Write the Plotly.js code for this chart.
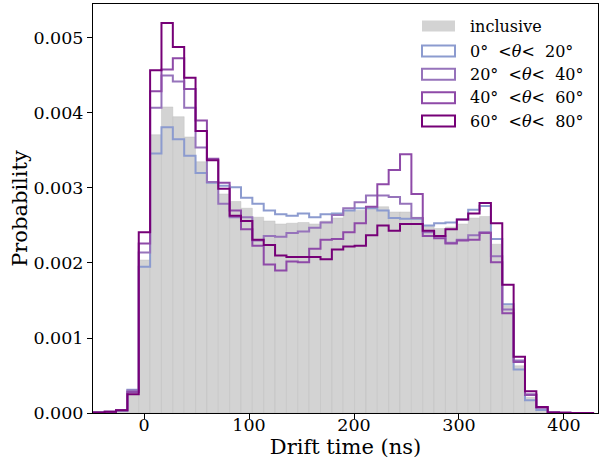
<!DOCTYPE html>
<html>
<head>
<meta charset="utf-8">
<script src="https://cdn.plot.ly/plotly-3.0.1.min.js"></script>
<style>html,body{margin:0;padding:0;background:#fff;}#chart{width:599px;height:459px;}</style>
</head>
<body>
<div id="chart"></div>
<script>
// ---- data (probability per bin, in units of 1e-3) ----
const binStart = -48.3;      // left edge of first bin (ns)
const binWidth = 10.82;      // bin width (ns)
const inclusive = [0.005,0.012,0.03,0.29,2.04,3.71,4.08,3.95,3.68,3.35,3.06,2.92,2.82,2.73,2.61,2.56,2.52,2.53,2.54,2.52,2.56,2.60,2.70,2.70,2.75,2.75,2.68,2.68,2.61,2.50,2.46,2.48,2.52,2.60,2.62,2.25,1.43,0.63,0.21,0.05,0.006,0.002,0.001,0.001];
const theta0_20 = [0.005,0.012,0.03,0.31,1.95,3.46,3.81,3.65,3.43,3.20,3.07,3.03,3.01,2.87,2.79,2.70,2.65,2.63,2.66,2.61,2.65,2.66,2.70,2.73,2.73,2.70,2.60,2.59,2.59,2.50,2.53,2.54,2.58,2.71,2.76,2.32,1.45,0.58,0.17,0.04,0.005,0.001,0.001,0.0];
const theta20_40 = [0.005,0.015,0.035,0.30,2.14,4.07,4.50,4.42,4.07,3.54,3.08,2.79,2.61,2.61,2.30,2.36,2.35,2.40,2.42,2.47,2.54,2.64,2.73,2.81,2.90,2.90,2.88,2.79,2.60,2.41,2.36,2.27,2.31,2.37,2.41,2.09,1.38,0.70,0.25,0.08,0.006,0.002,0.001,0.0];
const theta40_60 = [0.005,0.015,0.035,0.28,2.26,4.29,4.58,4.73,4.32,3.90,3.39,3.07,2.70,2.45,2.23,1.98,1.90,2.02,2.01,2.19,2.31,2.32,2.41,2.53,2.75,3.05,3.24,3.45,2.92,2.36,2.33,2.26,2.30,2.31,2.40,2.01,1.33,0.68,0.24,0.07,0.006,0.002,0.001,0.0];
const theta60_80 = [0.005,0.015,0.035,0.25,2.41,4.57,5.20,4.88,4.47,3.76,3.37,2.99,2.63,2.56,2.31,2.24,2.10,2.08,2.08,2.08,2.05,2.18,2.22,2.23,2.37,2.50,2.43,2.52,2.52,2.43,2.36,2.45,2.58,2.66,2.80,2.53,1.71,0.75,0.29,0.08,0.008,0.002,0.001,0.001];
const seriesNames = ["0°\u00a0\u00a0<<i>θ</i><\u00a0\u00a020°","20°\u00a0\u00a0<<i>θ</i><\u00a0\u00a040°","40°\u00a0\u00a0<<i>θ</i><\u00a0\u00a060°","60°\u00a0\u00a0<<i>θ</i><\u00a0\u00a080°"];
const inclusiveName = "inclusive";
const xTicks = [0,100,200,300,400];
const yTicks = [0,0.001,0.002,0.003,0.004,0.005];

// ---- styles ----
const colors = ["#8c9bcf","#9673bb","#8e4aa8","#760077"];
const FONT = "DejaVu Serif, serif";
const W = 599, H = 459, L = 93, R = 1, T = 4, B = 46;

const toProb = a => a.map(v => v/1000);
const n = inclusive.length;
const edges = Array.from({length: n+1}, (_, i) => binStart + i*binWidth);
const centers = edges.slice(0, n).map(e => e + binWidth/2);

function stepTrace(vals, color){
  const p = toProb(vals);
  const xs = [edges[0]], ys = [0];
  for (let i=0;i<n;i++){ xs.push(edges[i]); ys.push(p[i]); }
  xs.push(edges[n]); ys.push(0);
  return {type:'scatter', mode:'lines', x: xs, y: ys, line:{shape:'hv', color: color, width: 2},
          showlegend:false, hoverinfo:'skip'};
}

const traces = [
  {type:'bar', x: centers, y: toProb(inclusive), width: binWidth,
   marker:{color:'#d3d3d3', line:{color:'rgba(185,185,185,0.5)', width:0.8}},
   showlegend:false, hoverinfo:'skip', name: inclusiveName},
  stepTrace(theta0_20, colors[0]),
  stepTrace(theta20_40, colors[1]),
  stepTrace(theta40_60, colors[2]),
  stepTrace(theta60_80, colors[3])
];

// manual legend (pixel positions converted to paper coords)
const pw = W - L - R, ph = H - T - B;
const px = x => (x - L)/pw, py = y => (H - B - y)/ph;
const rowY = [26, 51, 74.3, 97.7, 121];
const shapes = [], annotations = [];
const legendNames = [inclusiveName].concat(seriesNames);
for (let i=0;i<5;i++){
  const yc = rowY[i];
  shapes.push({type:'rect', xref:'paper', yref:'paper', x0:px(422), x1:px(455), y0:py(yc+5.5), y1:py(yc-5.5),
    fillcolor: i===0 ? '#d3d3d3' : '#ffffff',
    line: i===0 ? {width:0} : {color: colors[i-1], width:2}});
  annotations.push({xref:'paper', yref:'paper', x:px(468), y:py(yc), xanchor:'left', yanchor:'middle',
    text: legendNames[i], showarrow:false, font:{family:FONT, size:16, color:'#000'}});
}

const layout = {
  width: W, height: H,
  margin: {l:L, r:R, t:T, b:B, pad:0},
  paper_bgcolor:'#fff', plot_bgcolor:'#fff',
  bargap: 0,
  showlegend: false,
  xaxis: {range:[-48.6, 432.4], tickvals: xTicks, ticktext: xTicks.map(String), ticks:'outside', ticklen:5, tickwidth:1,
    tickcolor:'#000', showline:true, mirror:true, linecolor:'#000', linewidth:1, showgrid:false, zeroline:false,
    ticklabelstandoff:-9,
    tickfont:{family:FONT, size:17.5, color:'#000'},
    title:{text:'Drift time (ns)', font:{family:FONT, size:21, color:'#000'}, standoff:15}},
  yaxis: {range:[0, 0.005453], tickvals: yTicks, ticktext: yTicks.map(v => v.toFixed(3)), ticks:'outside', ticklen:5, tickwidth:1,
    tickcolor:'#000', showline:true, mirror:true, linecolor:'#000', linewidth:1, showgrid:false, zeroline:false,
    tickfont:{family:FONT, size:17.5, color:'#000'},
    title:{text:'Probability', font:{family:FONT, size:21, color:'#000'}, standoff:0}},
  shapes: shapes,
  annotations: annotations
};

Plotly.newPlot('chart', traces, layout, {staticPlot:true, displayModeBar:false});
</script>
</body>
</html>
